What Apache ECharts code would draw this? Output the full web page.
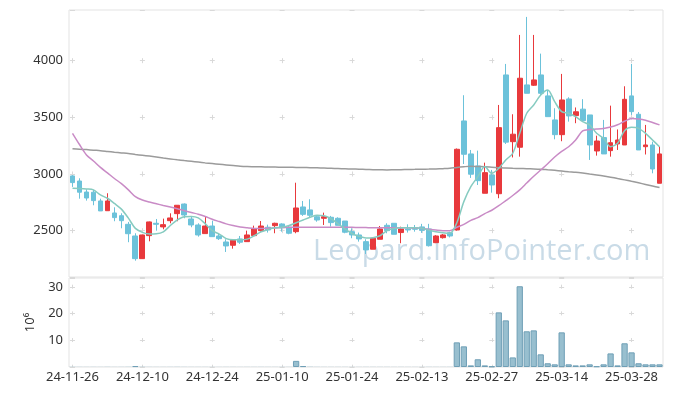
<!DOCTYPE html>
<html><head><meta charset="utf-8">
<script src="https://cdn.jsdelivr.net/npm/echarts@6/dist/echarts.min.js"></script>
<style>html,body{margin:0;padding:0;background:#fff}#c{width:673px;height:396px}</style>
</head><body><div id="c"></div>
<script>
const dates = ['24-11-26','24-11-27','24-11-28','24-11-29','24-12-02','24-12-03','24-12-04','24-12-05','24-12-06','24-12-09',
'24-12-10','24-12-11','24-12-12','24-12-13','24-12-16','24-12-17','24-12-18','24-12-19','24-12-20','24-12-23',
'24-12-24','24-12-26','24-12-27','24-12-30','25-01-02','25-01-03','25-01-06','25-01-07','25-01-08','25-01-09',
'25-01-10','25-01-13','25-01-14','25-01-15','25-01-16','25-01-17','25-01-20','25-01-21','25-01-22','25-01-23',
'25-01-24','25-01-31','25-02-03','25-02-04','25-02-05','25-02-06','25-02-07','25-02-10','25-02-11','25-02-12',
'25-02-13','25-02-14','25-02-17','25-02-18','25-02-19','25-02-20','25-02-21','25-02-24','25-02-25','25-02-26',
'25-02-27','25-02-28','25-03-04','25-03-05','25-03-06','25-03-07','25-03-10','25-03-11','25-03-12','25-03-13',
'25-03-14','25-03-17','25-03-18','25-03-19','25-03-20','25-03-21','25-03-24','25-03-25','25-03-26','25-03-27',
'25-03-28','25-03-31','25-04-01','25-04-02','25-04-03'];

const openV = [2983,2938,2841,2839,2762,2676,2656,2632,2556,2453,
2253,2456,2565,2533,2588,2650,2735,2603,2550,2474,
2541,2453,2400,2371,2427,2403,2456,2500,2530,2544,
2559,2530,2491,2709,2683,2623,2609,2618,2609,2585,
2491,2462,2403,2336,2424,2547,2565,2483,2515,2526,
2533,2515,2394,2438,2482,2506,3468,3177,3071,2830,
2991,2826,3874,3285,3236,3786,3783,3874,3689,3477,
3347,3662,3515,3572,3521,3203,3321,3206,3265,3256,
3689,3527,3241,3256,2918];
const closeV = [2924,2839,2788,2765,2674,2762,2615,2588,2473,2253,
2462,2577,2556,2553,2612,2724,2638,2550,2462,2541,
2447,2429,2365,2415,2398,2462,2515,2541,2506,2565,
2526,2477,2700,2644,2636,2594,2623,2571,2547,2486,
2462,2427,2330,2433,2515,2500,2468,2515,2506,2512,
2503,2367,2453,2462,2453,3218,3174,2998,2941,3012,
2903,3409,3281,3351,3845,3712,3830,3712,3506,3347,
3653,3512,3549,3471,3256,3291,3177,3276,3300,3659,
3550,3212,3256,3044,3177];
const lowV = [2886,2782,2765,2724,2674,2676,2583,2521,2398,2235,
2250,2406,2500,2512,2565,2583,2609,2530,2447,2474,
2447,2418,2312,2341,2383,2403,2456,2491,2483,2477,
2491,2468,2477,2630,2621,2579,2550,2535,2547,2477,
2433,2403,2294,2336,2424,2477,2468,2389,2483,2491,
2480,2360,2390,2430,2440,2500,3088,2965,2903,2830,
2835,2786,3265,3146,3153,3712,3777,3697,3506,3306,
3289,3462,3448,3471,3124,3162,3177,3153,3212,3256,
3521,3212,3172,3006,2918];
const highV = [2990,2962,2865,2859,2782,2830,2706,2653,2577,2477,
2465,2580,2603,2606,2653,2724,2740,2620,2565,2623,
2588,2477,2424,2424,2453,2500,2544,2585,2553,2570,
2565,2541,2923,2762,2777,2638,2659,2630,2618,2585,
2521,2483,2424,2433,2541,2565,2565,2535,2556,2550,
2560,2560,2460,2470,2490,3225,3695,3212,3206,3100,
3036,3609,3971,3527,4227,4386,4227,4062,3741,3580,
3883,3677,3587,3660,3521,3338,3477,3603,3393,3774,
3971,3547,3433,3285,3241];

const ma5 = [2874,2872,2868,2860,2815,2786,2740,2690,2610,2520,
2485,2470,2472,2490,2545,2595,2623,2625,2612,2560,
2500,2470,2430,2420,2420,2425,2455,2490,2510,2525,
2530,2545,2570,2594,2618,2635,2632,2605,2560,2515,
2475,2450,2435,2438,2455,2500,2518,2525,2526,2526,
2521,2505,2491,2482,2477,2570,2756,2888,2976,3065,
3006,3050,3124,3183,3359,3536,3609,3697,3741,3638,
3550,3536,3506,3462,3433,3359,3315,3241,3271,3382,
3412,3403,3359,3300,3241];
const ma20 = [3359,3260,3168,3115,3058,3010,2960,2915,2860,2800,
2770,2752,2737,2722,2708,2694,2676,2660,2645,2625,
2600,2580,2560,2545,2532,2525,2520,2520,2521,2524,
2527,2529,2530,2530,2530,2530,2530,2530,2530,2530,
2529,2528,2527,2526,2526,2526,2526,2526,2525,2523,
2520,2512,2505,2500,2500,2530,2555,2590,2615,2650,
2680,2720,2765,2810,2860,2920,2980,3035,3090,3150,
3200,3240,3300,3380,3392,3396,3402,3415,3435,3465,
3490,3486,3475,3455,3433];
const ma60 = [3222,3219,3215,3210,3206,3199,3192,3186,3180,3172,
3165,3158,3150,3141,3133,3125,3118,3112,3105,3098,
3092,3086,3080,3074,3068,3065,3064,3063,3062,3061,
3060,3059,3058,3057,3056,3054,3052,3050,3048,3046,
3044,3042,3040,3038,3037,3036,3037,3038,3040,3041,
3042,3043,3045,3047,3050,3058,3064,3068,3066,3064,
3060,3056,3052,3050,3049,3047,3045,3042,3037,3032,
3026,3020,3015,3008,3000,2992,2983,2972,2960,2948,
2935,2922,2908,2894,2880];
const volume = [0.08,0.06,0.05,0.06,0.05,0.07,0.05,0.06,0.08,0.35,
0.1,0.06,0.05,0.05,0.06,0.07,0.06,0.05,0.05,0.05,
0.05,0.04,0.05,0.05,0.04,0.05,0.05,0.06,0.05,0.05,
0.06,0.05,2.3,0.35,0.1,0.06,0.05,0.05,0.05,0.05,
0.05,0.04,0.05,0.05,0.05,0.05,0.04,0.05,0.04,0.04,
0.05,0.06,0.05,0.05,0.06,9.25,7.75,0.6,2.9,0.6,
0.25,20.5,17.5,3.6,30.3,13.4,13.75,4.75,1.4,1.0,
13.0,1.0,0.6,0.6,1.0,0.25,1.0,5.1,0.6,8.9,
5.5,1.4,1.0,1.0,1.0];

const priceMin = 2091, priceMax = 4447;
const volMax = 33.4;
const watermark = 'Leopard.InfoPointer.com';

const UP = '#e8393c', DOWN = '#6cc2da';
const crossColor = '#d9d9d9';
const labelFont = {color:'#333', fontSize:13, fontFamily:'Noto Sans'};

const chart = echarts.init(document.getElementById('c'), null, {renderer:'canvas'});
chart.setOption({
  animation:false,
  backgroundColor:'#fff',
  graphic:[{type:'text', left:313, top:237, z:1, silent:true,
    style:{text:watermark, fill:'#c9dbe7', font:'29px "Open Sans"'}}],
  grid:[
    {left:69, right:10, top:10, height:267, show:true, borderColor:'#e3e3e3', borderWidth:1},
    {left:69, right:10, top:278, height:89, show:true, borderColor:'#e3e3e3', borderWidth:1}
  ],
  xAxis:[
    {type:'category', gridIndex:0, data:dates, boundaryGap:true,
     axisLine:{show:false}, axisTick:{show:false}, axisLabel:{show:false},
     splitLine:{show:true, interval:9, alignWithLabel:true,
       lineStyle:{color:crossColor, width:1, type:[5,51.67], dashOffset:8.5}}},
    {type:'category', gridIndex:1, data:dates, boundaryGap:true,
     axisLine:{show:false}, axisTick:{show:false},
     axisLabel:Object.assign({interval:9, margin:4}, labelFont),
     splitLine:{show:true, interval:9, alignWithLabel:true,
       lineStyle:{color:crossColor, width:1, type:[4,22.67], dashOffset:19.97}}}
  ],
  yAxis:[
    {type:'value', gridIndex:0, min:priceMin, max:priceMax, scale:true,
     axisLine:{show:false}, axisTick:{show:false},
     axisLabel:Object.assign({showMinLabel:false, showMaxLabel:false, margin:6,
       formatter:(v)=>String(v)}, labelFont),
     splitLine:{show:true, lineStyle:{color:crossColor, width:1, type:[5,64.88], dashOffset:68.88}}},
    {type:'value', gridIndex:1, min:0, max:volMax, interval:10,
     name:'10⁶', nameLocation:'middle', nameGap:30, nameRotate:90,
     nameTextStyle:{color:'#333', fontSize:13, fontFamily:'Noto Sans'},
     axisLine:{show:false}, axisTick:{show:false},
     axisLabel:Object.assign({showMinLabel:false, showMaxLabel:false, margin:6,
       formatter:(v)=>String(v)}, labelFont),
     splitLine:{show:true, lineStyle:{color:crossColor, width:1, type:[5,64.88], dashOffset:68.88}}}
  ],
  series:[
    {type:'candlestick', xAxisIndex:0, yAxisIndex:0, barWidth:'76%', z:2,
     data:dates.map((d,i)=>[openV[i], closeV[i], lowV[i], highV[i]]),
     itemStyle:{color:UP, color0:DOWN, borderColor:UP, borderColor0:DOWN, borderWidth:1}},
    {type:'line', xAxisIndex:0, yAxisIndex:0, data:ma60, symbol:'none', smooth:0.3, z:3,
     lineStyle:{color:'#9b9b9b', width:1.5}},
    {type:'line', xAxisIndex:0, yAxisIndex:0, data:ma20, symbol:'none', smooth:0.3, z:3,
     lineStyle:{color:'#c98bc6', width:1.5}},
    {type:'line', xAxisIndex:0, yAxisIndex:0, data:ma5, symbol:'none', smooth:0.3, z:3,
     lineStyle:{color:'#86cbc0', width:1.5}},
    {type:'bar', xAxisIndex:1, yAxisIndex:1, barCategoryGap:'10%',
     data:volume.map(v => v < 0.2
       ? {value:v, itemStyle:{borderWidth:0}}
       : v),
     itemStyle:{color:'#98bfcf', borderColor:'#6f9fb6', borderWidth:1}}
  ]
});
</script></body></html>
